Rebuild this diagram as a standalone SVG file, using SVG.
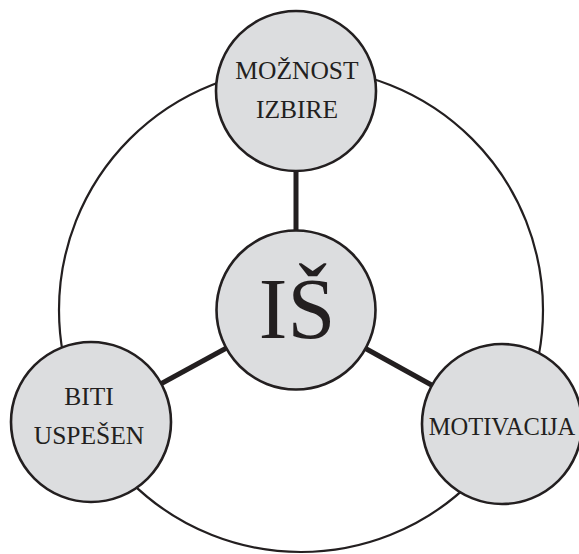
<svg xmlns="http://www.w3.org/2000/svg" width="579" height="554" viewBox="0 0 579 554">
<style>
.node{fill:#dcdddf;stroke:#231f20;stroke-width:2.6}
.lbl{font-family:"Liberation Serif","DejaVu Serif",serif;fill:#231f20;text-anchor:middle;font-size:25.5px}
.conn{stroke:#231f20;stroke-width:5;fill:none}
</style>
<rect width="579" height="554" fill="#ffffff"/>
<g id="connectors">
<circle cx="301" cy="310" r="242" fill="none" stroke="#231f20" stroke-width="2.2"/>
<line class="conn" x1="296" y1="310" x2="296" y2="91"/>
<line class="conn" x1="296" y1="310" x2="91" y2="422"/>
<line class="conn" x1="296" y1="310" x2="502" y2="424"/>
</g>
<g id="top">
<circle class="node" cx="296" cy="91" r="80"/>
<text class="lbl" x="297" y="79">MOŽNOST</text>
<text class="lbl" x="297" y="118">IZBIRE</text>
</g>
<g id="center">
<circle class="node" cx="296" cy="310" r="79.5"/>
<text class="lbl" x="297" y="338" style="font-size:86px">IŠ</text>
</g>
<g id="left">
<circle class="node" cx="91" cy="422" r="80"/>
<text class="lbl" x="89" y="405">BITI</text>
<text class="lbl" x="89" y="444">USPEŠEN</text>
</g>
<g id="right">
<circle class="node" cx="502" cy="424" r="80"/>
<text class="lbl" x="502" y="435" style="font-size:24.5px">MOTIVACIJA</text>
</g>
</svg>
